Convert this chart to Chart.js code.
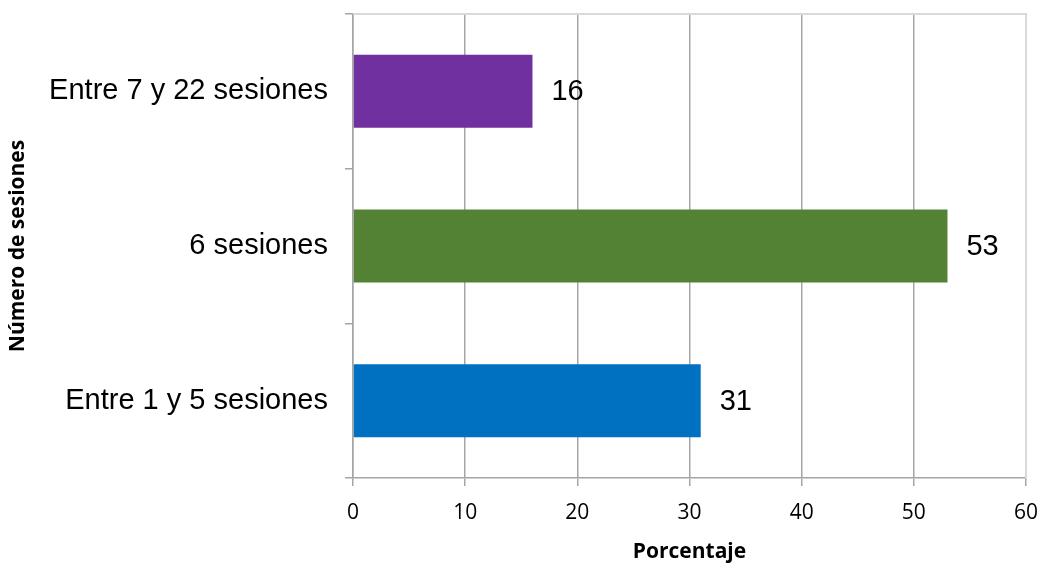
<!DOCTYPE html>
<html>
<head>
<meta charset="utf-8">
<script src="https://cdn.jsdelivr.net/npm/chart.js@4/dist/chart.umd.min.js"></script>
<style>
  html, body { margin: 0; padding: 0; background: #ffffff; }
  #wrap { width: 1042px; height: 565px; position: relative; }
</style>
</head>
<body>
<div id="wrap"><canvas id="c"></canvas></div>
<script>
// Session groups and the share of participants in each (%)
const categories = ['Entre 7 y 22 sesiones', '6 sesiones', 'Entre 1 y 5 sesiones'];
const percentages = [16, 53, 31];
const barColors = ['#7030A0', '#548235', '#0070C0'];
const xTicks = [0, 10, 20, 30, 40, 50, 60];

const AXIS_GREY = '#a6a6a6';
const BORDER_GREY = '#d9d9d9';

// Light frame along the top and right edge of the plot area
const plotFrame = {
  id: 'plotFrame',
  beforeDatasetsDraw(chart) {
    const { ctx, chartArea: a } = chart;
    ctx.save();
    ctx.strokeStyle = BORDER_GREY;
    ctx.lineWidth = 2;
    ctx.beginPath();
    ctx.moveTo(a.left, a.top);
    ctx.lineTo(a.right, a.top);
    ctx.lineTo(a.right, a.bottom);
    ctx.stroke();
    ctx.restore();
  }
};

// Value printed to the right of each bar
const valueLabels = {
  id: 'valueLabels',
  afterDatasetsDraw(chart) {
    const { ctx } = chart;
    const meta = chart.getDatasetMeta(0);
    ctx.save();
    ctx.font = '29px "Liberation Sans", Arial, sans-serif';
    ctx.fillStyle = '#000000';
    ctx.textAlign = 'left';
    ctx.textBaseline = 'middle';
    meta.data.forEach((bar, i) => {
      ctx.fillText(String(percentages[i]), bar.x + 19, bar.y + 1);
    });
    ctx.restore();
  }
};

new Chart(document.getElementById('c'), {
  type: 'bar',
  data: {
    labels: categories,
    datasets: [{
      data: percentages,
      backgroundColor: barColors,
      borderWidth: 0,
      barPercentage: 0.472,
      categoryPercentage: 1
    }]
  },
  plugins: [plotFrame, valueLabels],
  options: {
    indexAxis: 'y',
    responsive: true,
    maintainAspectRatio: false,
    animation: false,
    layout: { padding: { top: 14, right: 16, left: 0, bottom: 0 } },
    plugins: {
      legend: { display: false },
      tooltip: { enabled: false }
    },
    scales: {
      x: {
        min: 0,
        max: 60,
        afterBuildTicks(scale) {
          scale.ticks = xTicks.map(v => ({ value: v }));
        },
        afterFit(scale) {
          scale.height = 87;
          scale.paddingLeft = 0;
          scale.paddingRight = 0;
        },
        grid: {
          color: ctx => (ctx.tick && ctx.tick.value === 60) ? BORDER_GREY : AXIS_GREY,
          lineWidth: 1.5,
          drawTicks: true,
          tickLength: 8,
          tickColor: AXIS_GREY
        },
        border: { display: true, color: AXIS_GREY, width: 1.5 },
        ticks: {
          color: '#000000',
          padding: 14,
          font: { family: '"Open Sans", sans-serif', size: 21 }
        },
        title: {
          display: true,
          text: 'Porcentaje',
          color: '#000000',
          padding: { top: 0, bottom: 0 },
          font: { family: '"Open Sans", sans-serif', size: 21, weight: 'bold' }
        }
      },
      y: {
        afterFit(scale) {
          scale.width = 353;
          scale.paddingTop = 0;
          scale.paddingBottom = 0;
        },
        grid: {
          offset: true,
          drawOnChartArea: false,
          drawTicks: true,
          tickLength: 8,
          color: AXIS_GREY,
          lineWidth: 1.5
        },
        border: { display: true, color: AXIS_GREY, width: 1.5 },
        ticks: {
          color: '#000000',
          padding: 17,
          font: { family: '"Liberation Sans", Arial, sans-serif', size: 29 }
        },
        title: {
          display: true,
          text: 'Número de sesiones',
          color: '#000000',
          padding: { top: 5, bottom: 0 },
          font: { family: '"Open Sans", sans-serif', size: 21, weight: 'bold' }
        }
      }
    }
  }
});
</script>
</body>
</html>
